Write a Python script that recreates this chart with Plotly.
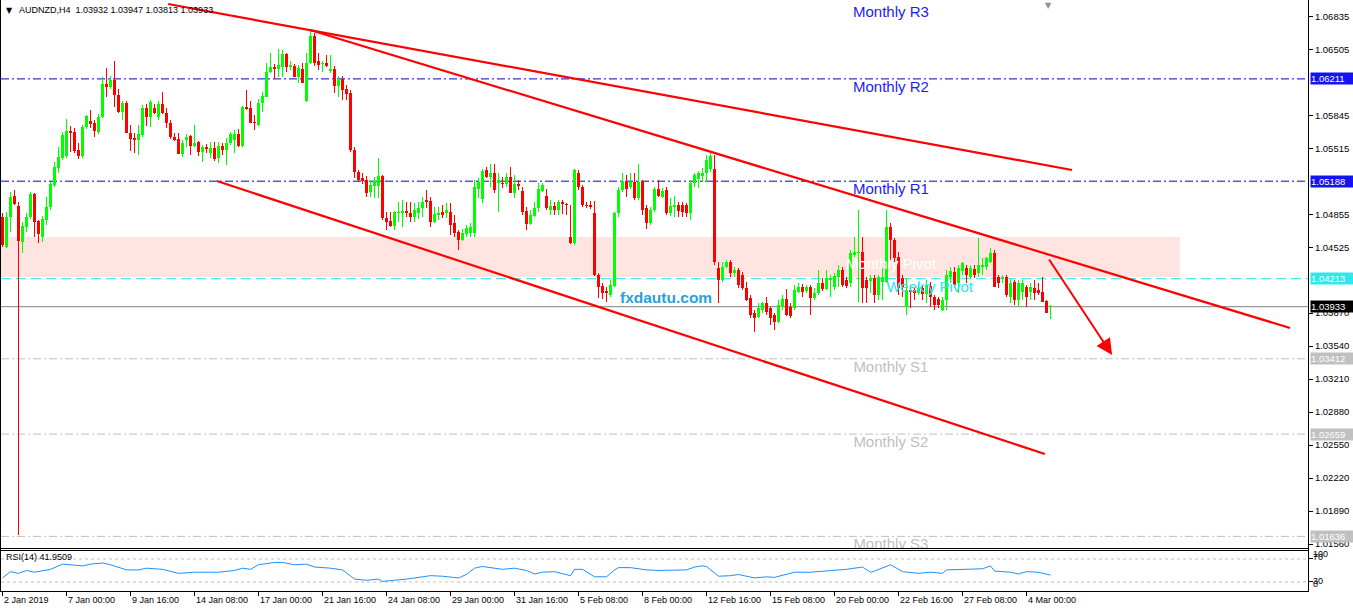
import plotly.graph_objects as go

# ---------------- data ----------------
opens = [
1.0483,1.0453,1.0483,1.0504,1.0494,1.0458,1.0473,1.0483,1.0506,1.0479,
1.0463,1.0480,1.0493,1.0515,1.0532,1.0542,1.0544,1.0569,1.0568,1.0550,
1.0544,1.0573,1.0579,1.0577,1.0568,1.0583,1.0616,1.0613,1.0620,1.0605,
1.0588,1.0597,1.0567,1.0562,1.0560,1.0565,1.0592,1.0583,1.0592,1.0583,
1.0596,1.0587,1.0577,1.0563,1.0561,1.0546,1.0560,1.0564,1.0554,1.0558,
1.0548,1.0553,1.0547,1.0552,1.0542,1.0554,1.0550,1.0557,1.0560,1.0566,
1.0554,1.0593,1.0592,1.0578,1.0575,1.0597,1.0603,1.0628,1.0633,1.0631,
1.0633,1.0646,1.0633,1.0634,1.0623,1.0631,1.0599,1.0637,1.0664,1.0639,
1.0636,1.0637,1.0629,1.0631,1.0614,1.0621,1.0611,1.0607,1.0550,1.0528,
1.0522,1.0520,1.0508,1.0514,1.0514,1.0524,1.0482,1.0479,1.0474,1.0487,
1.0487,1.0489,1.0487,1.0483,1.0487,1.0492,1.0500,1.0499,1.0478,1.0485,
1.0488,1.0487,1.0488,1.0477,1.0468,1.0460,1.0466,1.0467,1.0467,1.0511,
1.0501,1.0530,1.0523,1.0527,1.0517,1.0517,1.0516,1.0523,1.0507,1.0516,
1.0509,1.0489,1.0476,1.0484,1.0492,1.0509,1.0504,1.0490,1.0494,1.0490,
1.0498,1.0496,1.0463,1.0457,1.0527,1.0513,1.0495,1.0495,1.0487,1.0425,
1.0414,1.0409,1.0405,1.0414,1.0487,1.0510,1.0518,1.0513,1.0518,1.0502,
1.0518,1.0492,1.0477,1.0490,1.0511,1.0503,1.0510,1.0487,1.0493,1.0495,
1.0495,1.0495,1.0487,1.0517,1.0521,1.0524,1.0527,1.0531,1.0531,1.0432,
1.0420,1.0433,1.0438,1.0427,1.0430,1.0425,1.0412,1.0402,1.0387,1.0383,
1.0390,1.0397,1.0392,1.0385,1.0378,1.0394,1.0401,1.0393,1.0392,1.0408,
1.0413,1.0409,1.0413,1.0402,1.0407,1.0417,1.0411,1.0420,1.0413,1.0423,
1.0430,1.0420,1.0417,1.0445,1.0447,1.0448,1.0420,1.0419,1.0422,1.0405,
1.0418,1.0418,1.0473,1.0460,1.0443,1.0422,1.0393,1.0410,1.0410,1.0407,
1.0412,1.0406,1.0414,1.0403,1.0401,1.0390,1.0400,1.0423,1.0428,1.0417,
1.0429,1.0432,1.0423,1.0431,1.0427,1.0433,1.0433,1.0438,1.0447,1.0423,
1.0421,1.0423,1.0403,1.0418,1.0400,1.0408,1.0413,1.0408,1.0412,1.0410,
1.0408,1.0399,1.0393]

highs = [
1.0487,1.0488,1.0508,1.0510,1.0498,1.0478,1.0487,1.0508,1.0507,1.0480,
1.0484,1.0503,1.0518,1.0538,1.0553,1.0568,1.0581,1.0574,1.0572,1.0557,
1.0575,1.0585,1.0590,1.0580,1.0586,1.0623,1.0632,1.0624,1.0639,1.0611,
1.0599,1.0599,1.0575,1.0567,1.0575,1.0595,1.0596,1.0600,1.0596,1.0599,
1.0608,1.0592,1.0580,1.0567,1.0567,1.0560,1.0566,1.0565,1.0575,1.0559,
1.0555,1.0556,1.0558,1.0558,1.0558,1.0557,1.0562,1.0568,1.0570,1.0571,
1.0594,1.0610,1.0599,1.0585,1.0601,1.0608,1.0637,1.0647,1.0636,1.0651,
1.0650,1.0647,1.0639,1.0636,1.0635,1.0637,1.0647,1.0671,1.0667,1.0647,
1.0639,1.0645,1.0645,1.0634,1.0624,1.0624,1.0615,1.0610,1.0553,1.0530,
1.0527,1.0524,1.0520,1.0523,1.0542,1.0525,1.0488,1.0488,1.0489,1.0498,
1.0500,1.0498,1.0498,1.0497,1.0498,1.0503,1.0510,1.0503,1.0493,1.0493,
1.0495,1.0497,1.0497,1.0485,1.0470,1.0471,1.0475,1.0477,1.0520,1.0522,
1.0531,1.0533,1.0536,1.0536,1.0527,1.0523,1.0527,1.0533,1.0525,1.0520,
1.0513,1.0493,1.0490,1.0498,1.0517,1.0517,1.0511,1.0500,1.0498,1.0500,
1.0500,1.0497,1.0495,1.0531,1.0530,1.0515,1.0498,1.0499,1.0499,1.0427,
1.0417,1.0413,1.0420,1.0488,1.0513,1.0527,1.0525,1.0527,1.0527,1.0536,
1.0520,1.0495,1.0493,1.0513,1.0520,1.0512,1.0513,1.0502,1.0504,1.0498,
1.0498,1.0497,1.0520,1.0527,1.0529,1.0532,1.0545,1.0547,1.0545,1.0438,
1.0438,1.0440,1.0440,1.0433,1.0432,1.0428,1.0418,1.0405,1.0390,1.0397,
1.0398,1.0403,1.0393,1.0387,1.0400,1.0405,1.0411,1.0397,1.0415,1.0417,
1.0416,1.0415,1.0415,1.0412,1.0430,1.0422,1.0430,1.0425,1.0427,1.0435,
1.0433,1.0423,1.0450,1.0463,1.0490,1.0463,1.0423,1.0425,1.0425,1.0425,
1.0432,1.0490,1.0477,1.0462,1.0448,1.0425,1.0422,1.0415,1.0413,1.0417,
1.0415,1.0420,1.0418,1.0405,1.0403,1.0403,1.0430,1.0433,1.0433,1.0435,
1.0438,1.0435,1.0435,1.0435,1.0462,1.0442,1.0443,1.0452,1.0450,1.0425,
1.0425,1.0425,1.0421,1.0420,1.0420,1.0420,1.0415,1.0417,1.0420,1.0417,
1.0423,1.0400,1.0395]

lows = [
1.0453,1.0452,1.0468,1.0495,1.0165,1.0447,1.0468,1.0481,1.0463,1.0457,
1.0458,1.0475,1.0490,1.0513,1.0527,1.0540,1.0542,1.0548,1.0547,1.0541,
1.0542,1.0571,1.0572,1.0563,1.0566,1.0582,1.0603,1.0611,1.0593,1.0587,
1.0580,1.0567,1.0549,1.0547,1.0545,1.0563,1.0574,1.0573,1.0586,1.0580,
1.0586,1.0572,1.0561,1.0559,1.0546,1.0543,1.0553,1.0545,1.0553,1.0544,
1.0538,1.0547,1.0542,1.0539,1.0537,1.0545,1.0535,1.0555,1.0547,1.0553,
1.0553,1.0590,1.0577,1.0570,1.0574,1.0588,1.0603,1.0627,1.0621,1.0623,
1.0623,1.0628,1.0630,1.0623,1.0617,1.0617,1.0598,1.0636,1.0634,1.0630,
1.0628,1.0633,1.0627,1.0607,1.0603,1.0600,1.0600,1.0548,1.0522,1.0518,
1.0516,1.0503,1.0503,1.0502,1.0502,1.0480,1.0470,1.0473,1.0470,1.0478,
1.0473,1.0483,1.0478,1.0478,1.0481,1.0483,1.0492,1.0473,1.0477,1.0480,
1.0482,1.0482,1.0465,1.0463,1.0450,1.0459,1.0463,1.0463,1.0463,1.0502,
1.0497,1.0522,1.0513,1.0507,1.0488,1.0512,1.0513,1.0507,1.0502,1.0510,
1.0485,1.0470,1.0475,1.0483,1.0488,1.0508,1.0490,1.0485,1.0485,1.0485,
1.0486,1.0485,1.0456,1.0455,1.0510,1.0493,1.0492,1.0491,1.0424,1.0402,
1.0401,1.0398,1.0403,1.0413,1.0483,1.0508,1.0503,1.0511,1.0500,1.0500,
1.0485,1.0471,1.0475,1.0488,1.0503,1.0502,1.0485,1.0484,1.0483,1.0483,
1.0483,1.0483,1.0480,1.0513,1.0512,1.0518,1.0518,1.0528,1.0435,1.0397,
1.0418,1.0432,1.0423,1.0423,1.0412,1.0410,1.0399,1.0382,1.0368,1.0382,
1.0387,1.0385,1.0375,1.0370,1.0377,1.0390,1.0384,1.0382,1.0390,1.0407,
1.0403,1.0407,1.0385,1.0400,1.0405,1.0409,1.0410,1.0403,1.0410,1.0413,
1.0413,1.0412,1.0413,1.0443,1.0398,1.0397,1.0397,1.0407,1.0397,1.0400,
1.0400,1.0417,1.0440,1.0438,1.0405,1.0403,1.0385,1.0392,1.0400,1.0405,
1.0400,1.0397,1.0393,1.0390,1.0392,1.0389,1.0390,1.0417,1.0412,1.0407,
1.0425,1.0417,1.0422,1.0422,1.0423,1.0425,1.0430,1.0437,1.0413,1.0412,
1.0417,1.0403,1.0397,1.0395,1.0393,1.0400,1.0393,1.0400,1.0400,1.0405,
1.0398,1.0387,1.0381]

closes = [
1.0455,1.0483,1.0503,1.0496,1.0459,1.0474,1.0483,1.0506,1.0478,1.0466,
1.0481,1.0493,1.0516,1.0533,1.0543,1.0565,1.0569,1.0567,1.0549,1.0544,
1.0573,1.0584,1.0576,1.0569,1.0583,1.0616,1.0613,1.0620,1.0605,1.0588,
1.0597,1.0567,1.0561,1.0560,1.0566,1.0592,1.0583,1.0598,1.0587,1.0596,
1.0587,1.0577,1.0563,1.0560,1.0546,1.0557,1.0563,1.0554,1.0557,1.0548,
1.0553,1.0551,1.0552,1.0541,1.0554,1.0550,1.0557,1.0566,1.0566,1.0554,
1.0593,1.0591,1.0577,1.0577,1.0597,1.0604,1.0628,1.0633,1.0631,1.0635,
1.0646,1.0633,1.0635,1.0623,1.0632,1.0617,1.0637,1.0664,1.0637,1.0635,
1.0637,1.0634,1.0631,1.0614,1.0621,1.0610,1.0606,1.0550,1.0528,1.0520,
1.0519,1.0507,1.0515,1.0519,1.0524,1.0482,1.0478,1.0474,1.0488,1.0488,
1.0489,1.0487,1.0483,1.0490,1.0492,1.0498,1.0498,1.0478,1.0486,1.0487,
1.0485,1.0490,1.0475,1.0467,1.0460,1.0467,1.0472,1.0473,1.0513,1.0518,
1.0529,1.0523,1.0527,1.0510,1.0520,1.0516,1.0523,1.0507,1.0516,1.0514,
1.0488,1.0476,1.0485,1.0492,1.0511,1.0515,1.0492,1.0494,1.0490,1.0498,
1.0496,1.0495,1.0457,1.0530,1.0513,1.0495,1.0494,1.0493,1.0425,1.0413,
1.0407,1.0407,1.0415,1.0487,1.0510,1.0519,1.0511,1.0518,1.0502,1.0518,
1.0490,1.0477,1.0490,1.0511,1.0504,1.0509,1.0487,1.0494,1.0495,1.0489,
1.0488,1.0487,1.0517,1.0525,1.0527,1.0527,1.0540,1.0544,1.0438,1.0420,
1.0433,1.0438,1.0427,1.0430,1.0415,1.0412,1.0400,1.0385,1.0382,1.0392,
1.0397,1.0388,1.0382,1.0378,1.0395,1.0401,1.0385,1.0384,1.0410,1.0413,
1.0408,1.0413,1.0402,1.0407,1.0417,1.0411,1.0422,1.0422,1.0424,1.0430,
1.0415,1.0414,1.0447,1.0448,1.0448,1.0412,1.0412,1.0422,1.0405,1.0423,
1.0423,1.0473,1.0460,1.0442,1.0412,1.0412,1.0410,1.0408,1.0407,1.0412,
1.0406,1.0415,1.0403,1.0395,1.0395,1.0400,1.0425,1.0429,1.0415,1.0432,
1.0437,1.0425,1.0432,1.0425,1.0435,1.0435,1.0442,1.0447,1.0413,1.0417,
1.0423,1.0405,1.0417,1.0400,1.0417,1.0417,1.0403,1.0413,1.0407,1.0407,
1.0398,1.0387,1.0393]

# RSI(14) (bar index, value)
rsi_bars = [0,2,4,6,8,12,15,17,20,22,25,27,31,34,36,40,44,48,51,54,58,60,62,64,68,70,73,76,78,82,
            85,88,91,94,95,98,101,105,107,110,114,116,118,120,123,125,128,131,133,135,138,142,143,145,148,
            151,153,154,157,161,164,168,171,173,175,176,179,182,184,188,191,193,196,198,202,207,211,215,217,
            218,220,222,225,229,232,235,236,240,245,247,248,252,254,256,259,262]
rsi_values = [37,48,45,50,47,52,61,60,58,61,63,60,51,51,54,52,45,47,47,47,50,54,52,60,64,64,60,61,56,54,
              51,35,33,35,31,33,35,39,41,40,37,43,54,57,54,52,54,50,44,47,48,41,52,52,39,
              39,51,55,55,51,50,50,51,56,58,57,40,41,43,37,39,38,44,47,47,50,52,56,47,
              49,54,60,48,45,47,45,51,52,53,58,49,47,44,48,47,42]

tick_bars = [0,16,32,48,64,80,96,112,128,144,160,176,192,208,224,240,256]
tick_labels = ["2 Jan 2019","7 Jan 00:00","9 Jan 16:00","14 Jan 08:00","17 Jan 00:00","21 Jan 16:00",
               "24 Jan 08:00","29 Jan 00:00","31 Jan 16:00","5 Feb 08:00","8 Feb 00:00","12 Feb 16:00",
               "15 Feb 08:00","20 Feb 00:00","22 Feb 16:00","27 Feb 08:00","4 Mar 00:00"]

# price-scale ticks that are visible (the others are hidden behind the level boxes)
price_ticks = [1.06835,1.06505,1.05845,1.05515,1.04855,1.04525,
               1.03870,1.03540,1.03210,1.02880,1.02550,1.02220,1.01890,1.01560]

# pivot levels
level_values = [1.06211, 1.05188, 1.0444, 1.04213, 1.03412, 1.02659, 1.01636]
level_colors = ["#0000e6", "#0000e6", "#ffffff", "#22e3ee", "#c0c0c0", "#c0c0c0", "#c0c0c0"]
level_dashes = ["8px,3px,2px,3px", "8px,3px,2px,3px", "10px,5px", "10px,5px",
                "8px,3px,2px,3px", "8px,3px,2px,3px", "8px,3px,2px,3px"]
last_price = 1.03933

# price-scale label boxes
box_values = [1.06211, 1.05188, 1.04213, 1.03933, 1.03412, 1.02659, 1.01636]
box_colors = ["#1414f0", "#1414f0", "#2ee8ee", "#000000", "#c0c0c0", "#c0c0c0", "#c0c0c0"]

# texts of the levels
label_texts = ["Monthly R3", "Monthly R2", "Monthly R1", "Monthly Pivot", "Weekly Pivot",
               "Monthly S1", "Monthly S2", "Monthly S3"]
label_bars = [222.1, 222.1, 222.1, 222.1, 231.8, 222.1, 222.1, 222.1]
label_prices = [1.0687, 1.0612, 1.0510, 1.0435, 1.0412, 1.0332, 1.0257, 1.0155]
label_colors = ["#1a1aff", "#1a1aff", "#1a1aff", "#ffffff", "#22e8f0", "#c0c0c0", "#c0c0c0", "#c0c0c0"]

# trend lines drawn on the chart: (bar0, price0, bar1, price1)
trend_lines = [(41.4, 1.0696, 267.4, 1.0530),
               (76.9, 1.0670, 321.9, 1.0372),
               (53.6, 1.0519, 260.6, 1.0246)]
arrow_line = (261.4, 1.0442, 277.4, 1.0345)
zone = (-1, 294.4, 1.0423, 1.0463)

# ---------------- geometry helpers (pixels -> paper) ----------------
W, H = 1353, 610
ML, MR, MT, MB = 1, 45, 2, 19
PW, PH = W - ML - MR, H - MT - MB


def xp(px):
    return (px - ML) / PW


def yp(py):
    return (H - MB - py) / PH


FONT = "Liberation Sans, Arial, sans-serif"

fig = go.Figure()

n = len(closes)
up = [i for i in range(n) if closes[i] >= opens[i]]
dn = [i for i in range(n) if closes[i] < opens[i]]

for idx, col in ((up, "#00ff00"), (dn, "#ff0000")):
    wx, wy = [], []
    for i in idx:
        wx += [i, i, None]
        wy += [lows[i], highs[i], None]
    fig.add_trace(go.Scatter(x=wx, y=wy, mode="lines", line=dict(color=col, width=1),
                             hoverinfo="skip", xaxis="x", yaxis="y"))
for idx, col in ((up, "#00ff00"), (dn, "#ff0000")):
    base = [min(opens[i], closes[i]) for i in idx]
    hgt = [max(abs(closes[i] - opens[i]), 0.0001) for i in idx]
    fig.add_trace(go.Bar(x=idx, y=hgt, base=base, width=0.75,
                         marker=dict(color=col, line=dict(width=0)),
                         hoverinfo="skip", xaxis="x", yaxis="y"))

# level texts (clipped to the price panel)
fig.add_trace(go.Scatter(x=label_bars, y=label_prices, text=label_texts, mode="text",
                         textfont=dict(family=FONT, size=15, color=label_colors),
                         textposition="middle center", cliponaxis=True,
                         hoverinfo="skip", xaxis="x", yaxis="y"))

# RSI
fig.add_trace(go.Scatter(x=rsi_bars, y=rsi_values, mode="lines",
                         line=dict(color="#1e90ff", width=1),
                         hoverinfo="skip", xaxis="x2", yaxis="y2"))

shapes = []
shapes.append(dict(type="rect", xref="x", yref="y", x0=zone[0], x1=zone[1], y0=zone[2], y1=zone[3],
                   fillcolor="#ffe4e1", line=dict(width=0), layer="below"))
for v, c, d in zip(level_values, level_colors, level_dashes):
    shapes.append(dict(type="line", xref="x domain", yref="y", x0=0, x1=1, y0=v, y1=v,
                       line=dict(color=c, width=1, dash=d), layer="below"))
shapes.append(dict(type="line", xref="x domain", yref="y", x0=0, x1=1, y0=last_price, y1=last_price,
                   line=dict(color="#808080", width=1), layer="below"))
for b0, p0, b1, p1 in trend_lines:
    shapes.append(dict(type="line", xref="x", yref="y", x0=b0, y0=p0, x1=b1, y1=p1,
                       line=dict(color="#ff0000", width=2.2)))
for v in (70, 30):
    shapes.append(dict(type="line", xref="x2 domain", yref="y2", x0=0, x1=1, y0=v, y1=v,
                       line=dict(color="#c0c0c0", width=1, dash="3px,3px"), layer="below"))
black = dict(color="#000000", width=1)
shapes += [
    dict(type="line", xref="paper", yref="paper", x0=xp(0.5), x1=xp(0.5), y0=yp(0), y1=yp(592), line=black),
    dict(type="line", xref="paper", yref="paper", x0=xp(1308.5), x1=xp(1308.5), y0=yp(0), y1=yp(592), line=black),
    dict(type="line", xref="paper", yref="paper", x0=xp(0), x1=xp(1308.5), y0=yp(548.5), y1=yp(548.5), line=black),
    dict(type="line", xref="paper", yref="paper", x0=xp(0), x1=xp(1308.5), y0=yp(550.5), y1=yp(550.5), line=black),
    dict(type="line", xref="paper", yref="paper", x0=xp(0), x1=xp(1308.5), y0=yp(591.5), y1=yp(591.5), line=black),
]

ann = []
ann.append(dict(x=arrow_line[2], y=arrow_line[3], ax=arrow_line[0], ay=arrow_line[1],
                xref="x", yref="y", axref="x", ayref="y", text="", showarrow=True,
                arrowhead=2, arrowsize=1.6, arrowwidth=2, arrowcolor="#ff0000"))
for v, c in zip(box_values, box_colors):
    ann.append(dict(x=xp(1310), y=v, xref="paper", yref="y", xanchor="left", yanchor="middle",
                    text=f"{v:.5f}", showarrow=False, bgcolor=c, borderpad=0, width=43, align="left",
                    font=dict(family=FONT, size=9.5, color="#ffffff")))
ann.append(dict(x=xp(4), y=yp(10), xref="paper", yref="paper", xanchor="left", yanchor="middle",
                text="▼", showarrow=False, font=dict(family="DejaVu Sans", size=8, color="#000000")))
ann.append(dict(x=xp(17), y=yp(10), xref="paper", yref="paper", xanchor="left", yanchor="middle",
                text="AUDNZD,H4  1.03932 1.03947 1.03813 1.03933", showarrow=False,
                font=dict(family=FONT, size=9, color="#000000")))
ann.append(dict(x=xp(1048), y=yp(5), xref="paper", yref="paper", xanchor="center", yanchor="middle",
                text="▼", showarrow=False, font=dict(family="DejaVu Sans", size=8, color="#909090")))
ann.append(dict(x=xp(666), y=yp(297), xref="paper", yref="paper", xanchor="center", yanchor="middle",
                text="<b>fxdautu.com</b>", showarrow=False,
                font=dict(family=FONT, size=15.5, color="#2b9fd9")))
ann.append(dict(x=xp(4), y=yp(557), xref="paper", yref="paper", xanchor="left", yanchor="middle",
                text="RSI(14) 41.9509", showarrow=False, font=dict(family=FONT, size=9, color="#000000")))
for t, py in (("100", 554), ("70", 557), ("30", 581), ("0", 584)):
    ann.append(dict(x=xp(1311), y=yp(py), xref="paper", yref="paper", xanchor="left", yanchor="middle",
                    text=t, showarrow=False, font=dict(family=FONT, size=9, color="#000000")))
for b, t in zip(tick_bars, tick_labels):
    ann.append(dict(x=b, y=yp(600), xref="x2", yref="paper", xanchor="left", yanchor="middle",
                    xshift=-1, text=t, showarrow=False, font=dict(family=FONT, size=9, color="#000000")))

xr = [-0.375, 326.375]
fig.update_layout(
    width=W, height=H, margin=dict(l=ML, r=MR, t=MT, b=MB),
    paper_bgcolor="#ffffff", plot_bgcolor="#ffffff",
    showlegend=False, barmode="overlay", hovermode=False,
    xaxis=dict(domain=[0, 1], range=xr, anchor="y", showgrid=False, zeroline=False,
               showticklabels=False, ticks="", showline=False),
    xaxis2=dict(domain=[0, 1], range=xr, anchor="y2", matches="x", showgrid=False, zeroline=False,
                showticklabels=False, ticks="outside", ticklen=4, tickcolor="#000000",
                tickvals=tick_bars, showline=False),
    yaxis=dict(domain=[yp(548), yp(2)], range=[1.0152, 1.0698], side="right", anchor="x",
               showgrid=False, zeroline=False, showline=False, ticks="outside", ticklen=4,
               tickcolor="#000000", tickvals=price_ticks, ticktext=[f"{v:.5f}" for v in price_ticks],
               tickfont=dict(family=FONT, size=9.5, color="#000000")),
    yaxis2=dict(domain=[0, yp(551)], range=[14.3, 83.9], side="right", anchor="x2",
                showgrid=False, zeroline=False, showline=False, showticklabels=False,
                ticks="outside", ticklen=4, tickcolor="#000000", tickvals=[100, 70, 30, 0]),
    shapes=shapes, annotations=ann,
)

fig.write_html("out.html", config={"displayModeBar": False},
               post_script="document.body.style.margin='0px';document.body.style.overflow='hidden';")
